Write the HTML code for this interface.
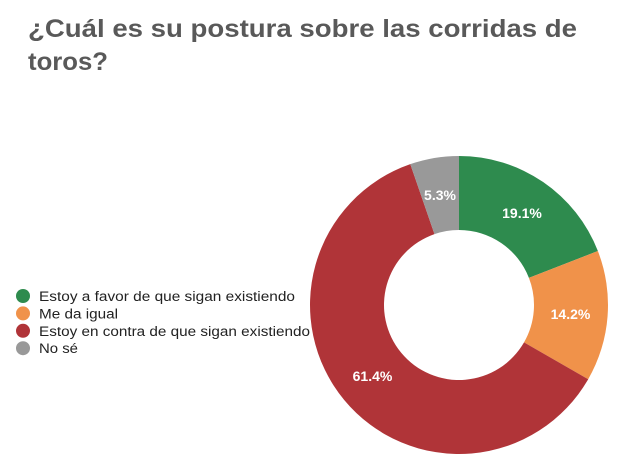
<!DOCTYPE html>
<html>
<head>
<meta charset="utf-8">
<style>
  html, body { margin: 0; padding: 0; background: #ffffff; }
  svg { display: block; }
</style>
</head>
<body>
<svg width="627" height="466" viewBox="0 0 627 466" xmlns="http://www.w3.org/2000/svg">
  <rect x="0" y="0" width="627" height="466" fill="#ffffff"/>
  <!-- Title -->
  <text x="28" y="37" font-family="Liberation Sans, Arial, sans-serif" font-weight="bold" font-size="25" fill="#595959" textLength="549" lengthAdjust="spacingAndGlyphs">¿Cuál es su postura sobre las corridas de</text>
  <text x="28" y="70" font-family="Liberation Sans, Arial, sans-serif" font-weight="bold" font-size="25" fill="#595959" textLength="80" lengthAdjust="spacingAndGlyphs">toros?</text>

  <!-- Legend -->
  <circle cx="23" cy="296" r="7" fill="#2e8b4e"/>
  <text x="39" y="301" font-family="Liberation Sans, Arial, sans-serif" font-size="13.5" fill="#222222" textLength="256" lengthAdjust="spacingAndGlyphs">Estoy a favor de que sigan existiendo</text>
  <circle cx="23" cy="313.4" r="7" fill="#f0924a"/>
  <text x="39" y="318.4" font-family="Liberation Sans, Arial, sans-serif" font-size="13.5" fill="#222222" textLength="79" lengthAdjust="spacingAndGlyphs">Me da igual</text>
  <circle cx="23" cy="330.8" r="7" fill="#b03438"/>
  <text x="39" y="335.8" font-family="Liberation Sans, Arial, sans-serif" font-size="13.5" fill="#222222" textLength="271" lengthAdjust="spacingAndGlyphs">Estoy en contra de que sigan existiendo</text>
  <circle cx="23" cy="348.2" r="7" fill="#999999"/>
  <text x="39" y="353.2" font-family="Liberation Sans, Arial, sans-serif" font-size="13.5" fill="#222222" textLength="39" lengthAdjust="spacingAndGlyphs">No sé</text>

  <!-- Donut -->
  <path d="M459,156 A149,149 0 0 1 597.88,251.03 L528.91,277.83 A75,75 0 0 0 459,230 Z" fill="#2e8b4e"/>
  <path d="M597.88,251.03 A149,149 0 0 1 588.20,379.22 L524.03,342.36 A75,75 0 0 0 528.91,277.83 Z" fill="#f0924a"/>
  <path d="M588.20,379.22 A149,149 0 1 1 410.29,164.18 L434.48,234.12 A75,75 0 1 0 524.03,342.36 Z" fill="#b03438"/>
  <path d="M410.29,164.18 A149,149 0 0 1 459,156 L459,230 A75,75 0 0 0 434.48,234.12 Z" fill="#999999"/>

  <!-- Slice labels -->
  <g font-family="Liberation Sans, Arial, sans-serif" font-weight="bold" font-size="14" fill="#ffffff" text-anchor="middle">
    <text x="522" y="218">19.1%</text>
    <text x="570.5" y="319">14.2%</text>
    <text x="372.5" y="381">61.4%</text>
    <text x="440" y="200">5.3%</text>
  </g>
</svg>
</body>
</html>
